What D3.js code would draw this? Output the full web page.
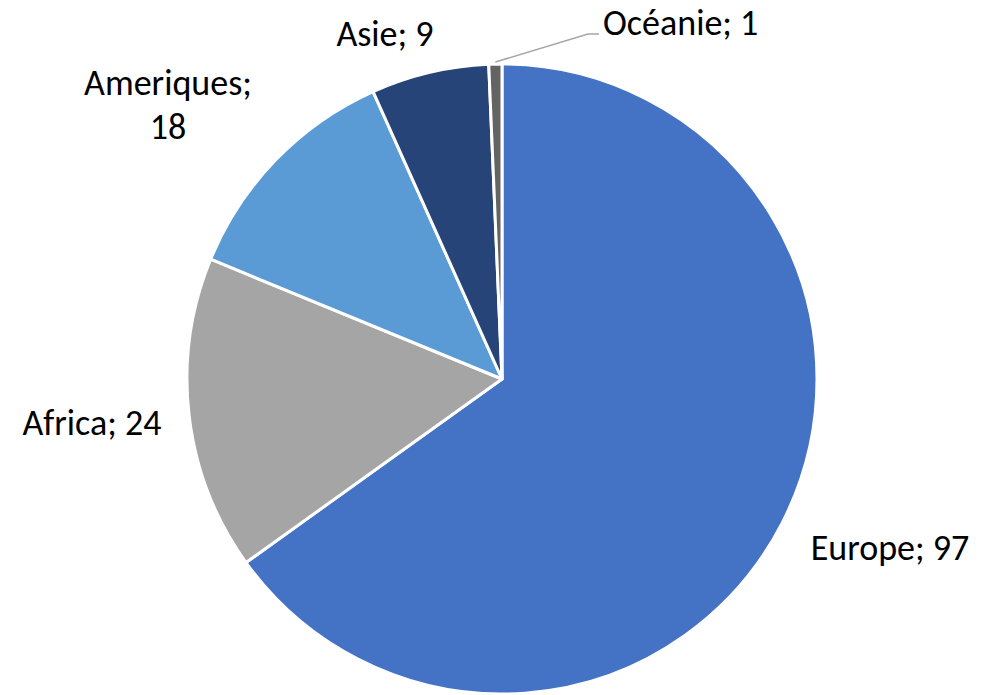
<!DOCTYPE html>
<html lang="fr">
<head>
  <meta charset="UTF-8">
  <title>Répartition par continent</title>
  <script src="https://d3js.org/d3.v7.min.js"></script>
  <style>
    body { margin: 0; background: #fff; }
    .lbl { font-family: Carlito, Calibri, "Open Sans", sans-serif; font-size: 36px; fill: #000; }
  </style>
</head>
<body>
  <div id="chart"></div>

  <script>
    // data
    const regions = ["Europe", "Africa", "Ameriques", "Asie", "Océanie"];
    const counts = [97, 24, 18, 9, 1];
    const colors = ["#4472C4", "#A5A5A5", "#5B9BD5", "#264478", "#636363"];

    const width = 984, height = 695;
    const cx = 502, cy = 379, radius = 315;

    // label placement (x, y of text centre, anchor, line split)
    const labelLayout = {
      "Europe":    { x: 890, y: 548, anchor: "middle" },
      "Africa":    { x: 92,  y: 423, anchor: "middle" },
      "Ameriques": { x: 168, y: 83,  anchor: "middle", wrap: true },
      "Asie":      { x: 385, y: 34,  anchor: "middle" },
      "Océanie":   { x: 603, y: 23,  anchor: "start" }
    };

    const data = regions.map((r, i) => ({ region: r, value: counts[i], color: colors[i] }));

    const svg = d3.select("#chart").append("svg")
      .attr("width", width)
      .attr("height", height);

    const g = svg.append("g")
      .attr("transform", `translate(${cx},${cy})`);

    const pie = d3.pie()
      .sort(null)
      .value(d => d.value);

    const arc = d3.arc()
      .innerRadius(0)
      .outerRadius(radius);

    const arcs = pie(data);

    g.selectAll("path")
      .data(arcs)
      .enter().append("path")
      .attr("d", arc)
      .attr("fill", d => d.data.color)
      .attr("stroke", "#fff")
      .attr("stroke-width", 3)
      .attr("stroke-linejoin", "round");

    // leader line for the tiny slice
    const small = arcs[arcs.length - 1];
    const mid = (small.startAngle + small.endAngle) / 2;
    const p0 = [Math.sin(mid) * (radius + 2) + cx, -Math.cos(mid) * (radius + 2) + cy];
    svg.append("polyline")
      .attr("points", `${p0[0]},${p0[1]} 588,34 599,34`)
      .attr("fill", "none")
      .attr("stroke", "#A6A6A6")
      .attr("stroke-width", 1.5);

    // labels
    arcs.forEach(a => {
      const L = labelLayout[a.data.region];
      const t = svg.append("text")
        .attr("class", "lbl")
        .attr("text-anchor", L.anchor)
        .attr("dominant-baseline", "central");
      if (L.wrap) {
        t.append("tspan").attr("x", L.x).attr("y", L.y).text(a.data.region + ";");
        t.append("tspan").attr("x", L.x).attr("y", L.y + 44).text(a.data.value);
      } else {
        t.attr("x", L.x).attr("y", L.y).text(`${a.data.region}; ${a.data.value}`);
      }
    });
  </script>
</body>
</html>
